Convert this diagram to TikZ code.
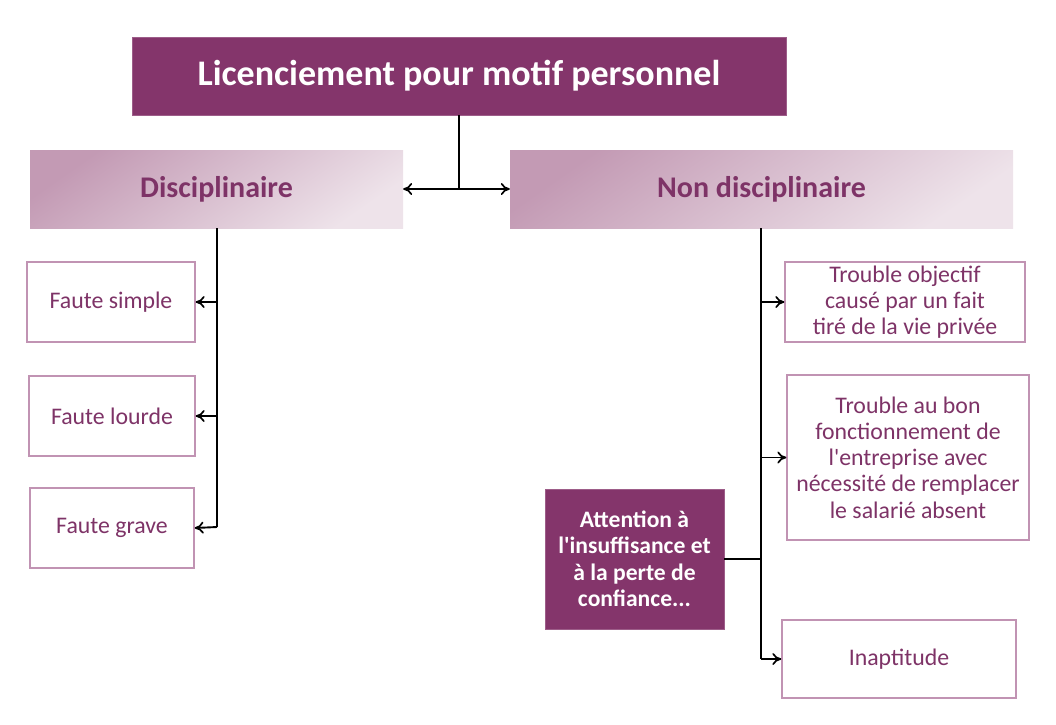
\documentclass[tikz,border=0pt]{standalone}
\usepackage{fontspec}
\setmainfont{Carlito}
\usetikzlibrary{arrows.meta}
\definecolor{plum}{HTML}{84356B}
\definecolor{plumtext}{HTML}{7E3367}
\definecolor{plumborder}{HTML}{C193B3}
\definecolor{gradA}{HTML}{C39AB4}
\definecolor{gradB}{HTML}{EEE3EA}
\tikzset{
  darkbox/.style={fill=plum, draw=plum!80!white, line width=0.8pt, inner sep=0pt, align=center, text=white, font=\bfseries},
  gradbox/.style={top color=gradA, bottom color=gradB, shading angle=35, draw=none, inner sep=0pt, text=plumtext, font=\fontsize{30}{36}\selectfont\bfseries},
  leafbox/.style={draw=plumborder, line width=1.4pt, fill=white, inner sep=0pt, align=center, text=plumtext, font=\fontsize{23.8}{26.3}\selectfont},
  conn/.style={line width=1.9pt, black},
  arr/.style={conn, -{To[length=9pt,width=12pt,line width=1.7pt]}},
  darr/.style={conn, {To[length=9pt,width=12pt,line width=1.7pt]}-{To[length=9pt,width=12pt,line width=1.7pt]}}
}
\begin{document}
\begin{tikzpicture}[x=1pt,y=-1pt]
\useasboundingbox (0,0) rectangle (1056,724);
% top
\node[darkbox, minimum width=654pt, minimum height=78pt, font=\fontsize{36}{42}\selectfont\bfseries] (top) at (459,76) {Licenciement pour motif personnel};
% second level
\node[gradbox, minimum width=373pt, minimum height=78pt] (disc) at (216.5,189) {Disciplinaire};
\node[gradbox, minimum width=503pt, minimum height=78pt] (nondisc) at (761.5,189) {Non disciplinaire};
% left leaves
\node[leafbox, minimum width=168pt, minimum height=80pt] (fs) at (111,302) {Faute simple};
\node[leafbox, minimum width=166pt, minimum height=80pt] (fl) at (112,416) {Faute lourde};
\node[leafbox, minimum width=164pt, minimum height=80pt] (fg) at (112,528) {Faute grave};
% right leaves
\node[leafbox, minimum width=240pt, minimum height=80pt] (to) at (905,302) {Trouble objectif\\causé par un fait\\tiré de la vie privée};
\node[leafbox, minimum width=242pt, minimum height=165pt] (tb) at (908,457.5) {Trouble au bon\\fonctionnement de\\l\textquotesingle entreprise avec\\nécessité de remplacer\\le salarié absent};
\node[leafbox, minimum width=234pt, minimum height=78pt] (in) at (899,659) {Inaptitude};
% attention
\node[darkbox, minimum width=179pt, minimum height=140pt, font=\fontsize{23.6}{26.5}\selectfont\bfseries] (att) at (634.5,559) {Attention à\\l\textquotesingle insuffisance et\\à la perte de\\confiance...};
% connectors
\coordinate (j) at (top.south |- disc.east);
\draw[conn] (top.south) -- (j);
\draw[darr] (disc.east) -- (j) -- (nondisc.west);
\coordinate (lb) at (217,527);
\draw[conn] (disc.south -| lb) -- (lb);
\draw[arr] (lb |- fs.east) -- (fs.east);
\draw[arr] (lb |- fl.east) -- (fl.east);
\draw[arr] (lb) -- (fg.east);
\coordinate (rb) at (761,659);
\draw[conn] (nondisc.south -| rb) -- (rb);
\draw[arr] (rb) -- (in.west);
\draw[arr] (rb |- to.west) -- (to.west);
\draw[arr] (rb |- tb.west) -- (tb.west);
\draw[conn] (att.east) -- (att.east -| rb);
\end{tikzpicture}
\end{document}
